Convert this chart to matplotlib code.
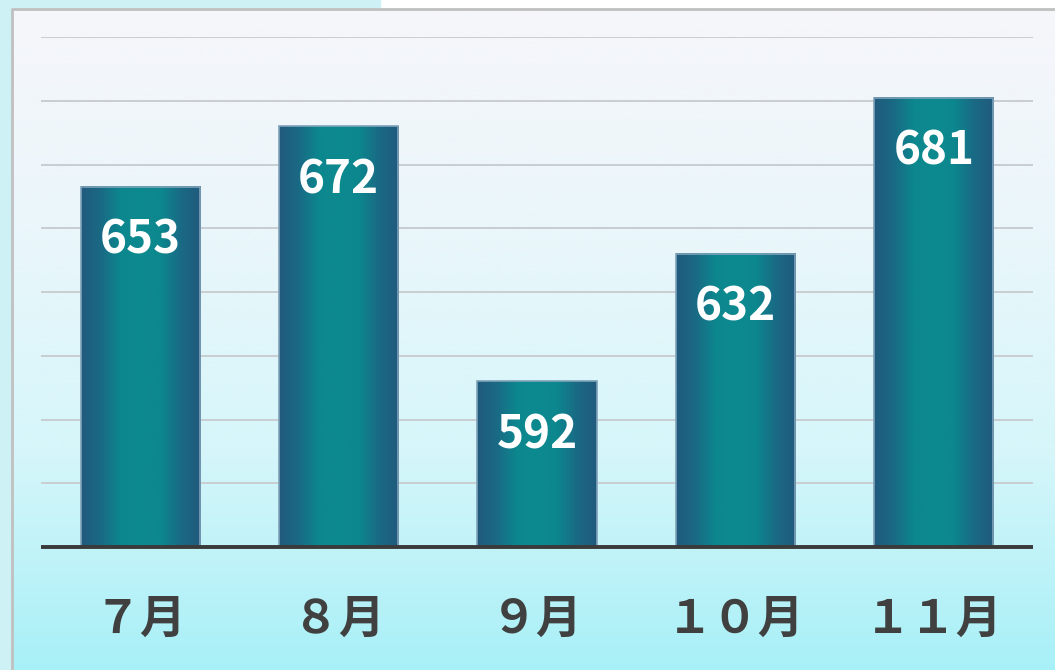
import numpy as np
import matplotlib
matplotlib.use("Agg")
import matplotlib.pyplot as plt
from matplotlib.colors import LinearSegmentedColormap
from matplotlib.patches import Rectangle

plt.rcParams['font.family'] = ['Noto Sans CJK JP', 'DejaVu Sans']

months = ["７月", "８月", "９月", "１０月", "１１月"]
values = [653, 672, 592, 632, 681]
y_min, y_max, y_step = 540, 700, 20

fig = plt.figure(figsize=(10.55, 6.7), dpi=100)
fig.patch.set_facecolor("white")

# outer cyan strip at top-left + panel
outer = fig.add_axes([0, 0, 1, 1], zorder=-3)
outer.set_xlim(0, 1055)
outer.set_ylim(670, 0)
outer.axis("off")
outer.add_patch(Rectangle((0, 0), 380, 670, color="#cdf1f5"))
outer.add_patch(Rectangle((0, 8), 12, 662, color="#cdf1f5"))

# panel gradient background
bg_cmap = LinearSegmentedColormap.from_list(
    "bg", ["#f6f6fb", "#eaf6fa", "#d6f6fa", "#a8f0f7"])
grad = np.linspace(0, 1, 256).reshape(-1, 1)
outer.imshow(grad, cmap=bg_cmap, extent=[12, 1055, 670, 9], aspect="auto", zorder=1)
outer.plot([11.5, 11.5, 1055], [670, 8.5, 8.5], color="#c0c0c0", lw=2, zorder=2)

ax = fig.add_axes([41 / 1055, (670 - 547) / 670, 992 / 1055, 510 / 670])
ax.patch.set_alpha(0)
ax.set_xlim(-0.5, len(months) - 0.5)
ax.set_ylim(y_min, y_max)

for g in np.arange(y_min + y_step, y_max + 1, y_step):
    ax.axhline(g, color="#c9cdd1", lw=1.4, zorder=1)

bar_cmap = LinearSegmentedColormap.from_list(
    "bar", ["#215a7e", "#1a6a85", "#0c878e", "#0c8a8f", "#0c878e", "#1a6a85", "#215a7e"])
xs = np.arange(len(months))
w = 0.6
bars = ax.bar(xs, [v - y_min for v in values], bottom=y_min, width=w,
              color="none", edgecolor="#7fa3b8", lw=1.2, zorder=3)
hgrad = np.linspace(0, 1, 256).reshape(1, -1)
for x, v in zip(xs, values):
    ax.imshow(hgrad, cmap=bar_cmap, extent=[x - w / 2, x + w / 2, y_min, v],
              aspect="auto", zorder=2)
    ax.text(x, v - 17, str(v), ha="center", va="center", color="white",
            fontsize=33, fontweight="bold", zorder=4)

ax.axhline(y_min, color="#3a3a3a", lw=2.8, zorder=5, clip_on=False,
           solid_capstyle="butt")

ax.set_xticks(xs)
ax.set_xticklabels(months, fontsize=33, fontweight="bold", color="#404040")
ax.tick_params(axis="x", length=0, pad=36)
ax.set_yticks([])
for s in ax.spines.values():
    s.set_visible(False)

fig.savefig("out.png", dpi=100)
